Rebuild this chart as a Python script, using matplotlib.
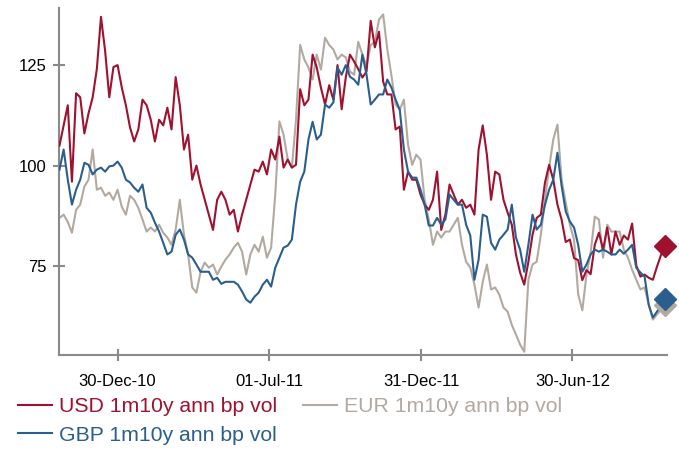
import numpy as np
import matplotlib
matplotlib.use("Agg")
import matplotlib.pyplot as plt

plt.rcParams['font.family'] = ['Liberation Sans', 'DejaVu Sans']

# colours
c_usd = "#a0112f"
c_eur = "#b2a9a1"
c_gbp = "#2a5e8e"
c_axis = "#8a8a8a"

# one value every 5 days, starting 21-Oct-2010
start_date = np.datetime64('2010-10-21')
step_days = 5

usd = [105, 110, 115, 96, 118, 117, 108, 113, 117, 124,
       137, 128.5, 117, 124.5, 125, 119.5, 115, 109.5, 106, 109,
       116.4, 115, 111.4, 106, 111.4, 110, 114.4, 109, 122, 115,
       104, 107.7, 96.5, 100, 95.3, 91.5, 87.8, 84, 91.5, 93.5,
       91.5, 87.8, 89, 83.6, 87.8, 91.5, 95.3, 99, 98.5, 101,
       97.8, 104, 101.5, 107.2, 99.5, 101.5, 99.5, 100.2, 119, 115,
       116.4, 127.6, 124.4, 119.4, 115.2, 120, 116.4, 125, 114, 122,
       127.6, 125.9, 124, 121.9, 123.4, 136, 129.4, 133.3, 120.9, 117.7,
       117.7, 109, 109.7, 94, 98.5, 96.5, 96.5, 92.8, 90.3, 89,
       91.5, 98.5, 84, 87.8, 95.3, 92.8, 90.3, 91.5, 89.5, 90.3,
       87.8, 104, 110, 102.7, 91.5, 98.5, 97.8, 91.5, 88.3, 85.3,
       77.9, 73.4, 70.4, 76.1, 82.8, 87, 87.8, 95.8, 100.2, 96.5,
       90.3, 86.6, 81, 81.6, 77, 76.5, 71.5, 74, 73, 80.3,
       83.3, 79.1, 84.6, 77.9, 83.6, 80.3, 82.6, 81.6, 85.6, 75.2,
       72.4, 72.9, 72.1, 71.6, 74.9, 77.9, 79.9]

eur = [87, 87.8, 86, 83.3, 89, 90.3, 94.8, 96.5, 104, 94,
       94.5, 92.5, 93.3, 91.5, 94, 89.8, 87.8, 92.5, 91.5, 89.5,
       86.6, 83.6, 84.6, 83.6, 85.3, 83.3, 82.1, 80.3, 84.1, 91.5,
       82.8, 77.9, 69.7, 68.4, 73.6, 75.9, 74.6, 75.4, 72.9, 74.9,
       76.6, 77.9, 79.6, 80.8, 78.6, 72.9, 77.9, 80.3, 78.6, 82.3,
       77.1, 79.6, 92.8, 111, 107.7, 101.5, 99.5, 111.4, 130, 126.4,
       124.4, 121.4, 127.6, 123.9, 131.8, 130, 128.9, 126.4, 127.6, 126.9,
       123.4, 122.6, 130.8, 127.6, 124.8, 130, 130.8, 136.3, 137.6, 128.9,
       122.4, 115.2, 113.9, 116.4, 105.2, 100.2, 102.7, 101.5, 91.5, 86.6,
       80.3, 83.6, 82.1, 83.6, 83.6, 85.3, 87, 80.3, 76.1, 74.6,
       70.4, 64.7, 71.1, 75.4, 69.2, 69.7, 67.9, 64.7, 63.7, 60.4,
       58, 55.5, 53.7, 71.6, 75.4, 76.1, 82.8, 91.5, 99.5, 106.5,
       110.2, 96.5, 90.8, 85.3, 81.6, 68, 64, 72.9, 78.4, 87.3,
       86.6, 77.1, 85.3, 83.6, 83.6, 83.6, 79.1, 77.1, 74.1, 71.6,
       69.2, 69.7, 65.4, 61.7, 63, 64.2, 65.4]

gbp = [99, 104, 96.5, 90.3, 94, 96.5, 100.7, 100.2, 97.8, 99,
       99.5, 98.5, 99.8, 100, 101, 99.5, 96.5, 95.8, 94.5, 93.5,
       95.3, 89.5, 88.3, 85.8, 83.6, 80.8, 77.9, 78.6, 82.8, 84.1,
       81.6, 77.9, 77.1, 75.4, 73.6, 73.6, 73.6, 71.6, 72.1, 70.6,
       71.1, 71.1, 71.1, 70.4, 68.7, 66.7, 65.9, 67.4, 68.4, 70.4,
       71.6, 69.9, 74.6, 77.1, 79.6, 80.1, 81.6, 90.3, 96, 98.5,
       106.5, 110.9, 106.5, 107.7, 115.2, 114.4, 115.7, 124.4, 122.6, 125,
       122.1, 121.4, 120.1, 127.6, 122.6, 115.2, 116.4, 117.7, 117.7, 121.4,
       119.4, 116.4, 113.9, 104, 98.5, 97, 97, 94, 90.3, 85.1,
       85.1, 87, 85.3, 86.6, 92.8, 91.5, 90.3, 90.3, 85.3, 82.6,
       71.6, 76.6, 87.8, 87.3, 80.8, 79.1, 81.6, 82.8, 84.1, 90.3,
       82.1, 79.1, 73.6, 80.3, 87.8, 84.1, 85.3, 90.3, 94, 96.5,
       103.2, 95, 88.6, 86.1, 84.6, 80.3, 73.6, 75.4, 77.9, 79.1,
       78.6, 79.1, 78.6, 77.9, 77.9, 79.1, 78.1, 79.1, 80.3, 74.6,
       73.4, 72.4, 65.4, 62.2, 63.7, 65.2, 66.7]

labels = ['USD 1m10y ann bp vol', 'GBP 1m10y ann bp vol', 'EUR 1m10y ann bp vol']
tick_dates = ['2010-12-30', '2011-07-01', '2011-12-31', '2012-06-30']
tick_labels = ['30-Dec-10', '01-Jul-11', '31-Dec-11', '30-Jun-12']
y_ticks = [75, 100, 125]


def main():
    fig = plt.figure(figsize=(6.79, 4.49), dpi=100)
    ax = fig.add_axes([0.0876, 0.2094, 0.8947, 0.7728])

    dates = start_date + np.arange(len(usd)) * step_days

    l_eur, = ax.plot(dates, eur, color=c_eur, lw=1.5, zorder=2)
    l_usd, = ax.plot(dates, usd, color=c_usd, lw=1.5, zorder=3)
    l_gbp, = ax.plot(dates, gbp, color=c_gbp, lw=1.5, zorder=4)

    # end-point diamonds
    ax.plot(dates[-1], eur[-1], 'D', color=c_eur, ms=11, zorder=5, clip_on=False)
    ax.plot(dates[-1], usd[-1], 'D', color=c_usd, ms=11, zorder=6, clip_on=False)
    ax.plot(dates[-1], gbp[-1], 'D', color=c_gbp, ms=11, zorder=6, clip_on=False)

    ax.set_xlim(np.datetime64('2010-10-21'), np.datetime64('2012-10-22'))
    ax.set_ylim(52.9, 139.2)

    ax.set_xticks([np.datetime64(d) for d in tick_dates])
    ax.set_xticklabels(tick_labels)
    ax.set_yticks(y_ticks)

    for s in ['top', 'right']:
        ax.spines[s].set_visible(False)
    for s in ['left', 'bottom']:
        ax.spines[s].set_color(c_axis)
        ax.spines[s].set_linewidth(1.5)
    ax.tick_params(axis='both', direction='inout', length=8, width=1.5,
                   color=c_axis, labelsize=12, labelcolor='black', pad=5)
    ax.tick_params(axis='x', pad=10)

    leg = fig.legend([l_usd, l_gbp, l_eur], labels, ncol=2, loc='upper left',
                     bbox_to_anchor=(0.026, 1 - 397 / 449), frameon=False,
                     borderaxespad=0, borderpad=0, handlelength=1.6,
                     handletextpad=0.35, columnspacing=1.2, labelspacing=0.45,
                     fontsize=15.3)
    for txt, col in zip(leg.get_texts(), [c_usd, c_gbp, c_eur]):
        txt.set_color(col)

    fig.savefig('out.png', dpi=100)


if __name__ == '__main__':
    main()
